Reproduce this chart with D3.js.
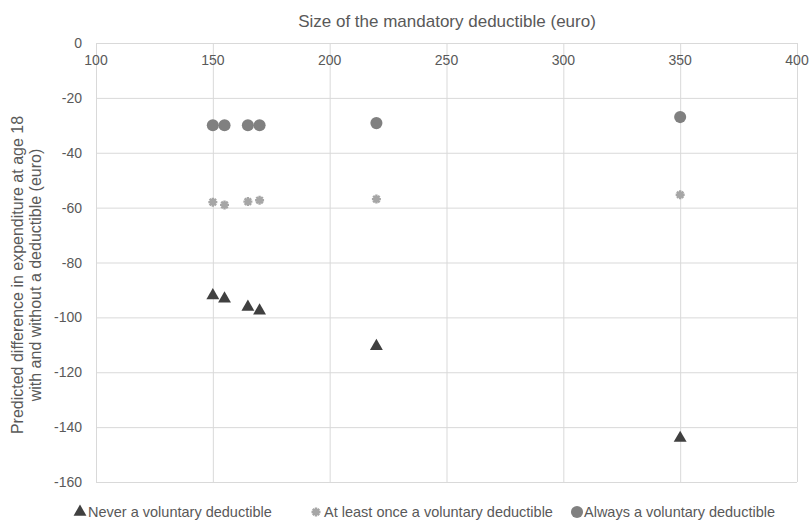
<!DOCTYPE html>
<html lang="en">
<head>
  <meta charset="UTF-8">
  <title>deductible</title>
  <style>
    body { margin: 0; background: #fff; }
    text { font-family: "Liberation Sans", Arial, sans-serif; fill: #595959; }
  </style>
</head>
<body>
<svg id="chart"></svg>
<script src="https://cdn.jsdelivr.net/npm/d3@7"></script>
<script>
// data
const deductibles = [150, 155, 165, 170, 220, 350];
const neverVoluntary = [-92, -93.2, -96.2, -97.6, -110.5, -144];
const onceVoluntary = [-58, -59, -57.8, -57.3, -56.9, -55.3];
const alwaysVoluntary = [-30, -30, -30, -30, -29.2, -27];
const xTicks = [100, 150, 200, 250, 300, 350, 400];
const yTicks = [0, -20, -40, -60, -80, -100, -120, -140, -160];
const seriesNames = ['Never a voluntary deductible', 'At least once a voluntary deductible', 'Always a voluntary deductible'];

const width = 810, height = 520;
const svg = d3.select('#chart').attr('width', width).attr('height', height);

const x = d3.scaleLinear().domain([100, 400]).range([96, 797]);
const y = d3.scaleLinear().domain([-160, 0]).range([482, 43]);

const grid = '#d9d9d9';

// grid lines
svg.append('g').selectAll('line').data(xTicks).enter().append('line')
  .attr('x1', d => x(d) + 0.5).attr('x2', d => x(d) + 0.5)
  .attr('y1', y(0)).attr('y2', y(-160))
  .attr('stroke', grid).attr('stroke-width', 1);
svg.append('g').selectAll('line').data(yTicks).enter().append('line')
  .attr('x1', x(100)).attr('x2', x(400))
  .attr('y1', d => y(d) + 0.5).attr('y2', d => y(d) + 0.5)
  .attr('stroke', grid).attr('stroke-width', 1);

// tick labels
svg.append('g').selectAll('text').data(xTicks).enter().append('text')
  .attr('x', d => x(d)).attr('y', y(0) + 22)
  .attr('text-anchor', 'middle').attr('font-size', 14)
  .text(d => d);
svg.append('g').selectAll('text').data(yTicks).enter().append('text')
  .attr('x', 82).attr('y', d => y(d) + 5)
  .attr('text-anchor', 'end').attr('font-size', 14)
  .text(d => d);

// axis titles
svg.append('text')
  .attr('x', 447).attr('y', 27)
  .attr('text-anchor', 'middle').attr('font-size', 17)
  .text('Size of the mandatory deductible (euro)');
const yt = svg.append('text')
  .attr('transform', 'translate(23,275) rotate(-90)')
  .attr('text-anchor', 'middle').attr('font-size', 16);
yt.append('tspan').attr('x', 0).attr('dy', 0).text('Predicted difference in expenditure at age 18');
yt.append('tspan').attr('x', 0).attr('dy', 18).text('with and without a deductible (euro)');

// markers
const triangle = d3.symbol().type(d3.symbolTriangle).size(72);
const circle = d3.symbol().type(d3.symbolCircle).size(115);
const star = 'M-4.5,0L4.5,0M0,-4.5L0,4.5M-3.2,-3.2L3.2,3.2M-3.2,3.2L3.2,-3.2';

function drawMarker(g, type) {
  if (type === 0) g.append('path').attr('d', triangle()).attr('fill', '#404040');
  if (type === 1) g.append('path').attr('d', star).attr('fill', 'none').attr('stroke', '#a6a6a6').attr('stroke-width', 2.4);
  if (type === 2) g.append('path').attr('d', circle()).attr('fill', '#808080');
}

const series = [neverVoluntary, onceVoluntary, alwaysVoluntary];
series.forEach((vals, si) => {
  svg.append('g').selectAll('g').data(vals).enter().append('g')
    .attr('transform', (d, i) => `translate(${x(deductibles[i])},${y(d)})`)
    .each(function() { drawMarker(d3.select(this), si); });
});

// legend
const legendX = [80, 316, 577];
seriesNames.forEach((name, i) => {
  const g = svg.append('g').attr('transform', `translate(${legendX[i]},512)`);
  drawMarker(g, i);
  g.append('text').attr('x', i === 2 ? 7 : 8).attr('y', 5).attr('font-size', 14.5).text(name);
});
</script>
</body>
</html>
